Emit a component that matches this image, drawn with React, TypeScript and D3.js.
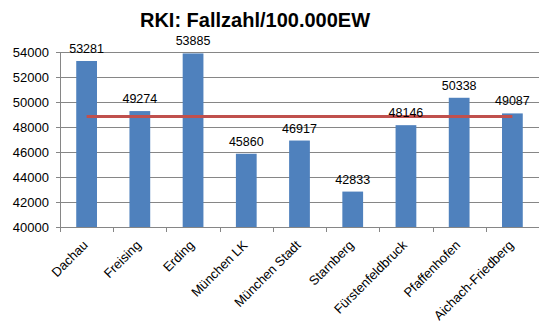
import React, { useEffect, useRef } from "react";
import * as d3 from "d3";

const categories = ["Dachau", "Freising", "Erding", "München LK", "München Stadt", "Starnberg", "Fürstenfeldbruck", "Pfaffenhofen", "Aichach-Friedberg"];
const values = [53281, 49274, 53885, 45860, 46917, 42833, 48146, 50338, 49087];
const yTicks = [40000, 42000, 44000, 46000, 48000, 50000, 52000, 54000];
const title = "RKI: Fallzahl/100.000EW";

const W = 539, H = 329;
const M = { left: 60, right: 0, top: 52, bottom: 102 };
const FONT = "'Liberation Sans', Arial, sans-serif";

export default function App() {
  const ref = useRef<SVGSVGElement>(null);
  useEffect(() => {
    const svg = d3.select(ref.current);
    svg.selectAll("*").remove();
    const x = d3.scaleBand<string>().domain(categories).range([M.left, W - M.right]).paddingInner(0.61).paddingOuter(0.305);
    const xb = d3.scaleBand<string>().domain(categories).range([M.left, W - M.right]);
    const y = d3.scaleLinear().domain([40000, 54000]).range([H - M.bottom, M.top]);
    const avg = d3.mean(values) as number;

    svg.append("text").attr("x", 255).attr("y", 27).attr("text-anchor", "middle")
      .attr("font-family", FONT).attr("font-weight", "bold").attr("font-size", 20).attr("fill", "#000")
      .text(title);

    // gridlines
    svg.append("g").selectAll("line").data(yTicks).join("line")
      .attr("x1", M.left).attr("x2", W - M.right)
      .attr("y1", d => y(d) + 0.5).attr("y2", d => y(d) + 0.5)
      .attr("stroke", "#868686").attr("stroke-width", 1);

    // y axis
    svg.append("line").attr("x1", M.left + 0.5).attr("x2", M.left + 0.5).attr("y1", y(54000)).attr("y2", y(40000))
      .attr("stroke", "#868686");
    svg.append("g").selectAll("line").data(yTicks).join("line")
      .attr("x1", M.left - 4).attr("x2", M.left)
      .attr("y1", d => y(d) + 0.5).attr("y2", d => y(d) + 0.5).attr("stroke", "#868686");
    svg.append("g").selectAll("text").data(yTicks).join("text")
      .attr("x", M.left - 11).attr("y", d => y(d) + 4.5).attr("text-anchor", "end")
      .attr("font-family", FONT).attr("font-size", 13).attr("fill", "#000").text(d => String(d));

    // x ticks
    const bounds = [...categories.map(c => xb(c) as number), W - M.right];
    svg.append("g").selectAll("line").data(bounds).join("line")
      .attr("x1", d => Math.round(d) + 0.5).attr("x2", d => Math.round(d) + 0.5)
      .attr("y1", y(40000)).attr("y2", y(40000) + 5).attr("stroke", "#868686");

    // bars
    svg.append("g").selectAll("rect").data(values).join("rect")
      .attr("x", (d, i) => x(categories[i]) as number).attr("width", x.bandwidth())
      .attr("y", d => y(d)).attr("height", d => y(40000) - y(d)).attr("fill", "#4F81BD");

    // avg line
    const line = d3.line<number>().x((d, i) => (xb(categories[i]) as number) + xb.bandwidth() / 2).y(() => y(avg));
    svg.append("path").attr("d", line(values) as string).attr("fill", "none").attr("stroke", "#C0504D").attr("stroke-width", 3);

    // data labels
    svg.append("g").selectAll("text").data(values).join("text")
      .attr("x", (d, i) => (xb(categories[i]) as number) + xb.bandwidth() / 2).attr("y", d => y(d) - 8)
      .attr("text-anchor", "middle").attr("font-family", FONT).attr("font-size", 12.5).attr("fill", "#000")
      .text(d => String(d));

    // category labels
    svg.append("g").selectAll("text").data(categories).join("text")
      .attr("transform", c => `translate(${(xb(c) as number) + xb.bandwidth() / 2 + 2},${y(40000) + 19}) rotate(-45)`)
      .attr("text-anchor", "end").attr("font-family", FONT).attr("font-size", 13).attr("fill", "#000")
      .text(c => c);
  }, []);
  return <svg ref={ref} width={W} height={H} style={{ position: "absolute", left: 0, top: 0, background: "#fff" }} />;
}
